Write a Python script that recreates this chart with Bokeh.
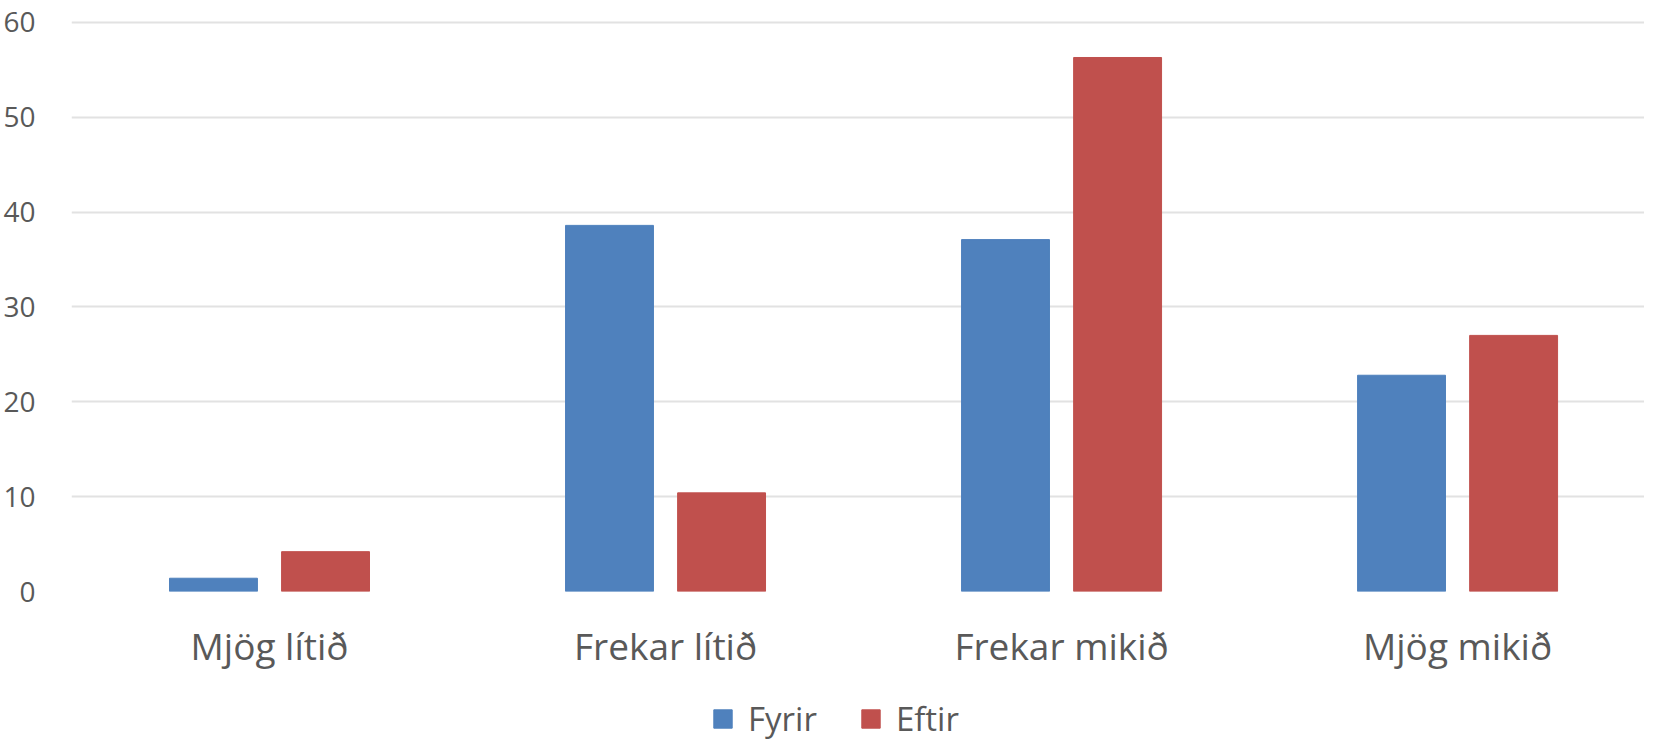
from bokeh.plotting import figure
from bokeh.layouts import column
from bokeh.models import ColumnDataSource, Range1d, FixedTicker, Legend, LegendItem
from bokeh.transform import dodge
from bokeh.embed import file_html
from bokeh.resources import INLINE

categories = ["Mjög lítið", "Frekar lítið", "Frekar mikið", "Mjög mikið"]
fyrir = [1.4, 38.6, 37.1, 22.8]
eftir = [4.2, 10.4, 56.3, 27.0]
y_ticks = [0, 10, 20, 30, 40, 50, 60]
series_names = ["Fyrir", "Eftir"]

FONT = "Open Sans"
TXT = "#595959"
BLUE = "#4F81BD"
RED = "#C0504D"

xpos = [i + 0.5 for i in range(len(categories))]
src = ColumnDataSource(dict(x=xpos, fyrir=fyrir, eftir=eftir, cat=categories))
xr = Range1d(0, 3.972)

p = figure(frame_width=1573, frame_height=571, output_backend="svg", toolbar_location=None,
           x_range=xr, y_range=Range1d(0, 60.2),
           min_border_left=65, min_border_right=0, min_border_top=20, min_border_bottom=90)
p.outline_line_color = None
p.background_fill_color = "white"
p.border_fill_color = "white"

p.vbar(x=dodge("x", -0.1415, range=xr), top="fyrir", width=0.222,
       source=src, fill_color=BLUE, line_color=BLUE)
p.vbar(x=dodge("x", 0.1415, range=xr), top="eftir", width=0.222,
       source=src, fill_color=RED, line_color=RED)

# x axis
p.xaxis.ticker = FixedTicker(ticks=xpos)
p.xaxis.major_label_overrides = {x: c for x, c in zip(xpos, categories)}
p.xaxis.axis_line_color = None
p.xaxis.major_tick_line_color = None
p.xaxis.minor_tick_line_color = None
p.xaxis.major_tick_out = 0
p.xaxis.major_label_text_font = FONT
p.xaxis.major_label_text_font_size = "37px"
p.xaxis.major_label_text_color = TXT
p.xaxis.major_label_standoff = 28
p.xgrid.grid_line_color = None

# y axis
p.yaxis.ticker = FixedTicker(ticks=y_ticks)
p.yaxis.axis_line_color = None
p.yaxis.major_tick_line_color = None
p.yaxis.minor_tick_line_color = None
p.yaxis.major_label_text_font = FONT
p.yaxis.major_label_text_font_size = "28px"
p.yaxis.major_label_text_color = TXT
p.yaxis.major_label_standoff = 30
p.ygrid.grid_line_color = "#e2e2e2"
p.ygrid.grid_line_width = 2

# legend strip below the chart
p2 = figure(width=1638, height=60, output_backend="svg", toolbar_location=None,
            x_range=xr, y_range=Range1d(1000, 1001),
            x_axis_type=None, y_axis_type=None,
            min_border_left=0, min_border_right=0, min_border_top=0, min_border_bottom=0)
p2.outline_line_color = None
p2.xgrid.grid_line_color = None
p2.ygrid.grid_line_color = None
p2.background_fill_color = "white"
p2.border_fill_color = "white"
l1 = p2.vbar(x="x", top="fyrir", width=0.222, source=src, fill_color=BLUE, line_color=BLUE)
l2 = p2.vbar(x="x", top="eftir", width=0.222, source=src, fill_color=RED, line_color=RED)

legend = Legend(items=[LegendItem(label=series_names[0], renderers=[l1]),
                       LegendItem(label=series_names[1], renderers=[l2])],
                orientation="horizontal", location=(640, 0),
                label_text_font=FONT, label_text_font_size="33px", label_text_color=TXT,
                glyph_width=23, glyph_height=23, spacing=42, padding=0, margin=0,
                label_standoff=14, border_line_color=None, background_fill_alpha=0)
p2.add_layout(legend, "center")

open("out.html", "w").write(file_html(column(p, p2, spacing=0), INLINE))
